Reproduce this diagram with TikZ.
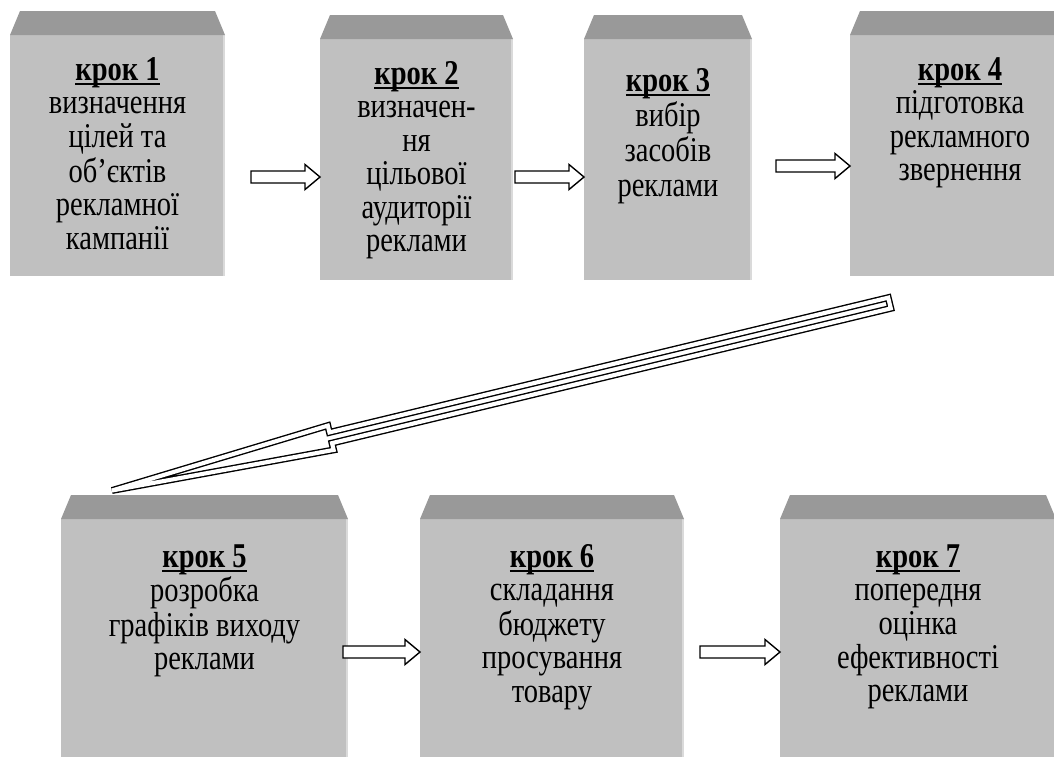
\documentclass[tikz,border=0pt]{standalone}
\usepackage{graphicx}
\usepackage{fontspec}
\setmainfont{Liberation Serif}
\usetikzlibrary{calc}

\definecolor{face}{HTML}{C0C0C0}
\definecolor{bevel}{HTML}{999999}
\definecolor{edgelight}{HTML}{DADADA}

\newsavebox\headbox
\newcommand\stephead[1]{\sbox\headbox{\textbf{#1}}\rlap{\rule[-4pt]{\wd\headbox}{1.8pt}}\usebox\headbox}
% lines of a step, set in a tall face; optional argument = leading before the stretch
\newcommand\steplines[2][27.46]{\scalebox{1}[1.22]{\fontsize{28.5}{#1}\selectfont\begin{tabular}[t]{@{}c@{}}#2\end{tabular}}}

\tikzset{
  front/.style={fill=face, draw=none, anchor=north west, inner sep=0pt, outer sep=0pt},
  steptext/.style={anchor=base, inner sep=0pt},
  hollow/.style={draw=black, line width=1.4pt, fill=white, line join=miter},
  twin/.style={draw=black, line width=1.4pt, double=white, double distance=4.1pt, line join=miter},
}

% #1 name, #2 left x, #3 top of bevel, #4 right x, #5 bottom y (pixel frame, y down)
\newcommand\stepbox[5]{%
  \node[front, minimum width={#4-#2}, minimum height={#5-#3-24}] (#1) at (#2,#3+24) {};
  \fill[edgelight] ([xshift=-2.5pt]#1.north east) rectangle (#1.south east);
  \fill[bevel] (#1.north west) -- ++(10,-24) -- ($(#1.north east)+(-10,-24)$) -- (#1.north east) -- cycle;
}

% hollow block arrow from #1 to #2 at the height of #1
\newcommand\blockarrow[2]{%
  \draw[hollow] let \p1=(#1), \p2=(#2) in
    (\x1,\y1+6pt) -- (\x2-15pt,\y1+6pt) -- (\x2-15pt,\y1+12.5pt) -- (\x2,\y1)
    -- (\x2-15pt,\y1-12.5pt) -- (\x2-15pt,\y1-6pt) -- (\x1,\y1-6pt) -- cycle;
}

\begin{document}
\begin{tikzpicture}[x=1pt,y=-1pt]
  \useasboundingbox (0,0) rectangle (1054,756);
  \clip (0,0) rectangle (1054,756);

  % upper row
  \stepbox{b1}{10}{11}{225}{276}
  \stepbox{b2}{320}{15}{513}{280}
  \stepbox{b3}{584}{15}{752}{280}
  \stepbox{b4}{850}{11}{1070}{276}
  % lower row
  \stepbox{b5}{61}{495}{348}{770}
  \stepbox{b6}{420}{495}{684}{770}
  \stepbox{b7}{780}{495}{1056}{770}

  \node[steptext] (t1) at ($(b1.north)+(0,45)$) {\steplines{\stephead{крок 1}\\визначення\\цілей та\\об’єктів\\рекламної\\кампанії}};
  \node[steptext] (t2) at ($(b2.north)+(0,45)$) {\steplines{\stephead{крок 2}\\визначен-\\ня\\цільової\\аудиторії\\реклами}};
  \node[steptext] (t3) at ($(b3.north)+(0,52)$) {\steplines[28.7]{\stephead{крок 3}\\вибір\\засобів\\реклами}};
  \node[steptext] (t4) at ($(b4.north)+(0,45)$) {\steplines{\stephead{крок 4}\\підготовка\\рекламного\\звернення}};
  \node[steptext] (t5) at ($(b5.north)+(0,48)$) {\steplines{\stephead{крок 5}\\розробка\\графіків виходу\\реклами}};
  \node[steptext] (t6) at ($(b6.north)+(0,48)$) {\steplines{\stephead{крок 6}\\складання\\бюджету\\просування\\товару}};
  \node[steptext] (t7) at ($(b7.north)+(0,48)$) {\steplines{\stephead{крок 7}\\попередня\\оцінка\\ефективності\\реклами}};

  % connectors between steps
  \coordinate (a1) at (251,177);
  \coordinate (a2) at (515,177);
  \coordinate (a3) at (776,166);
  \coordinate (a5) at (343,652);
  \coordinate (a6) at (700,652);
  \blockarrow{a1}{b2.west |- a1}
  \blockarrow{a2}{b3.west |- a2}
  \blockarrow{a3}{b4.west |- a3}
  \blockarrow{a5}{b6.west |- a5}
  \blockarrow{a6}{b7.west |- a6}

  % long double-outlined arrow from step 4 down to step 5
  \coordinate (dtail) at (889.5,303);
  \coordinate (dtip) at (112,490.5);
  \coordinate (hb) at ($(dtip)!225pt!(dtail)$);
  \draw[twin] (dtip) -- ($(hb)!12.5pt!90:(dtail)$) -- ($(hb)!5.5pt!90:(dtail)$)
    -- ($(dtail)!5.5pt!-90:(hb)$) -- ($(dtail)!5.5pt!90:(hb)$)
    -- ($(hb)!5.5pt!-90:(dtail)$) -- ($(hb)!12.5pt!-90:(dtail)$) -- cycle;
\end{tikzpicture}
\end{document}
